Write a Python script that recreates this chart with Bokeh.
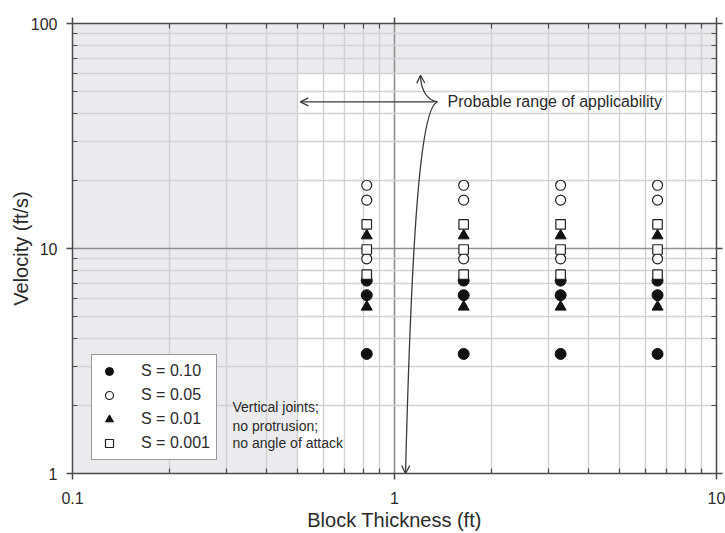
from bokeh.plotting import figure
from bokeh.models import (FixedTicker, CustomJSTickFormatter, LogAxis, BoxAnnotation,
                          Arrow, OpenHead, Label, Legend, LegendItem)
from bokeh.embed import file_html
from bokeh.resources import INLINE

# ---------------- data ----------------
thickness_ft = [0.82, 1.64, 3.28, 6.56]
v_s010 = [3.4, 6.2, 7.2]          # S = 0.10 (filled circle)
v_s005 = [9.0, 16.4, 19.1]        # S = 0.05 (open circle)
v_s001 = [5.5, 11.4]              # S = 0.01 (filled triangle)
v_s0001 = [7.65, 9.9, 12.8]       # S = 0.001 (open square)
series_labels = ["S = 0.10", "S = 0.05", "S = 0.01", "S = 0.001"]

x_ticks = [0.1, 1, 10]
x_tick_labels = ["0.1", "1", "10"]
y_ticks = [1, 10, 100]
y_tick_labels = ["1", "10", "100"]
x_minor = [k * 10.0 ** e for e in (-1, 0) for k in range(2, 10)]
y_minor = [k * 10.0 ** e for e in (0, 1) for k in range(2, 10)]

shade_x_max = 0.5
shade_y_min = 60

FONT = "Liberation Sans"
TXT = "#2b2b2b"

p = figure(width=725, height=533, x_axis_type="log", y_axis_type="log",
           x_range=(0.1, 10), y_range=(1, 100),
           output_backend="svg", toolbar_location=None,
           min_border_left=72, min_border_right=9, min_border_top=23, min_border_bottom=60,
           x_axis_label="Block Thickness (ft)", y_axis_label="Velocity (ft/s)")
p.outline_line_color = None
p.background_fill_color = "white"

bottom_ax = p.below[0]
left_ax = p.left[0]

xt = FixedTicker(ticks=x_ticks, minor_ticks=x_minor)
yt = FixedTicker(ticks=y_ticks, minor_ticks=y_minor)
code = "const i = vals.findIndex(v => Math.abs(v - tick) < 1e-9*Math.max(1, Math.abs(v))); return i >= 0 ? labs[i] : '';"
xf = CustomJSTickFormatter(args=dict(vals=x_ticks, labs=x_tick_labels), code=code)
yf = CustomJSTickFormatter(args=dict(vals=y_ticks, labs=y_tick_labels), code=code)
blank = CustomJSTickFormatter(code="return '';")

top_ax = LogAxis()
right_ax = LogAxis()
p.add_layout(top_ax, "above")
p.add_layout(right_ax, "right")

def style_axis(ax, ticker, fmt):
    ax.ticker = ticker
    ax.formatter = fmt
    ax.axis_line_color = "#4a4a4a"
    ax.axis_line_width = 1.5
    ax.major_tick_line_color = "#4a4a4a"
    ax.major_tick_line_width = 1.5
    ax.major_tick_in = 0
    ax.major_tick_out = 6
    ax.minor_tick_line_color = "#4a4a4a"
    ax.minor_tick_line_width = 1.2
    ax.minor_tick_in = 5
    ax.minor_tick_out = 0
    ax.major_label_text_font = FONT
    ax.major_label_text_font_size = "16px"
    ax.major_label_text_color = TXT
    ax.axis_label_text_font = FONT
    ax.axis_label_text_font_size = "20px"
    ax.axis_label_text_font_style = "normal"
    ax.axis_label_text_color = TXT

style_axis(bottom_ax, xt, xf)
style_axis(left_ax, yt, yf)
style_axis(top_ax, xt, blank)
style_axis(right_ax, yt, blank)
bottom_ax.major_label_standoff = 12
bottom_ax.axis_label_standoff = 2
left_ax.major_label_standoff = 9
left_ax.axis_label_standoff = -4
top_ax.major_label_standoff = 0
right_ax.major_label_standoff = 0

for g, t in ((p.xgrid[0], xt), (p.ygrid[0], yt)):
    g.ticker = t
    g.grid_line_color = "#8f8f8f"
    g.grid_line_width = 1.6
    g.minor_grid_line_color = "#d2d2d4"
    g.minor_grid_line_width = 1.5

# shaded region outside probable range of applicability
for kw in (dict(right=shade_x_max), dict(bottom=shade_y_min)):
    p.add_layout(BoxAnnotation(fill_color="#ebebed", fill_alpha=1.0, line_alpha=0,
                               level="image", **kw))

# ---------------- markers ----------------
def pts(vals):
    xs = [x for x in thickness_ft for _ in vals]
    ys = [v for _ in thickness_ft for v in vals]
    return xs, ys

x1, y1 = pts(v_s010)
r1 = p.scatter(x1, y1, marker="circle", size=11, fill_color="#111111", line_color="#111111")
x2, y2 = pts(v_s005)
r2 = p.scatter(x2, y2, marker="circle", size=10, fill_color="white", line_color="#222222", line_width=1.2)
x3, y3 = pts(v_s001)
r3 = p.scatter(x3, y3, marker="triangle", size=11, fill_color="#111111", line_color="#111111")
x4, y4 = pts(v_s0001)
r4 = p.scatter(x4, y4, marker="square", size=9.5, fill_color="white", line_color="#222222", line_width=1.2)

legend = Legend(items=[LegendItem(label=series_labels[i], renderers=[r])
                       for i, r in enumerate((r1, r2, r3, r4))],
                location=(19, 13), padding=6, spacing=4, margin=0,
                glyph_width=22, glyph_height=20, label_height=20, label_standoff=21,
                label_text_font=FONT, label_text_font_size="16px", label_text_color=TXT,
                border_line_color="#333333", border_line_width=1.2,
                background_fill_color="white", background_fill_alpha=1.0)
p.add_layout(legend)

# ---------------- annotations ----------------
LC = "#3a3a3a"
brace_x, brace_y = 1.36, 44.83
p.add_layout(Arrow(end=OpenHead(size=8, line_color=LC, line_width=1.3),
                   x_start=1.33, y_start=brace_y, x_end=0.51, y_end=brace_y,
                   line_color=LC, line_width=1.3))
# upper branch of brace -> up arrow
p.bezier(x0=[brace_x], y0=[brace_y], cx0=[1.275], cy0=[45.6], cx1=[1.213], cy1=[49.5],
         x1=[1.204], y1=[58.3], line_color=LC, line_width=1.3)
p.add_layout(Arrow(end=OpenHead(size=8, line_color=LC, line_width=1.3),
                   x_start=1.206, y_start=55.5, x_end=1.204, y_end=58.9,
                   line_color=LC, line_alpha=0))
# lower branch of brace -> down arrow
p.bezier(x0=[brace_x], y0=[brace_y], cx0=[1.222], cy0=[42.9], cx1=[1.137], cy1=[16.4],
         x1=[1.082], y1=[1.0], line_color=LC, line_width=1.3)
p.add_layout(Arrow(end=OpenHead(size=8, line_color=LC, line_width=1.3),
                   x_start=1.084, y_start=1.15, x_end=1.082, y_end=1.0,
                   line_color=LC, line_alpha=0))

p.add_layout(Label(x=1.461, y=brace_y, text="Probable range of applicability",
                   text_font=FONT, text_font_size="16px", text_color=TXT,
                   text_baseline="middle", text_align="left"))

for txt, yy in (("Vertical joints;", 1.97), ("no protrusion;", 1.62), ("no angle of attack", 1.363)):
    p.add_layout(Label(x=0.314, y=yy, text=txt, text_font=FONT, text_font_size="14px",
                       text_color=TXT, text_baseline="middle", text_align="left"))

open("out.html", "w").write(file_html(p, INLINE))
